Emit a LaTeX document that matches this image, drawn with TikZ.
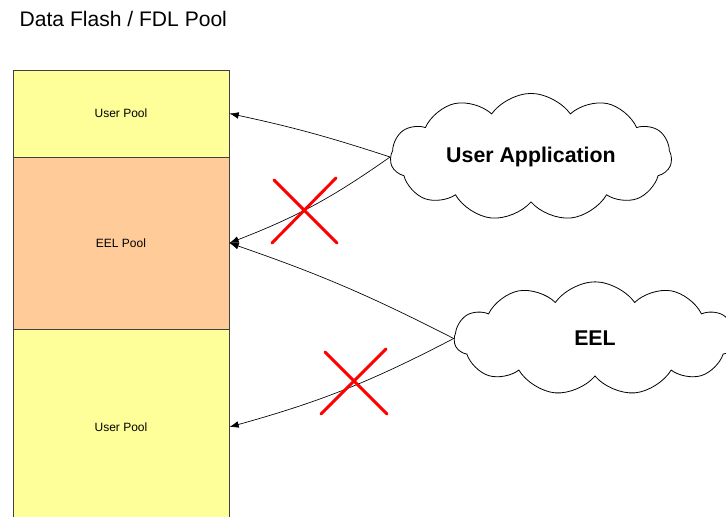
\documentclass[tikz,border=0pt]{standalone}
\usepackage{fontspec}
\setmainfont{Liberation Sans}
\usetikzlibrary{shapes.symbols, arrows.meta}

\definecolor{poolyellow}{HTML}{FFFF99}
\definecolor{poolpeach}{HTML}{FFCC99}

\tikzset{
    pool/.style={draw=black!75, line width=0.6pt, minimum width=162pt, inner sep=0pt,
        font=\fontsize{9}{11}\selectfont},
    bubble/.style={cloud, draw, fill=white, line width=0.6pt, cloud puffs=11, cloud puff arc=110,
        aspect=2.5, minimum width=211pt, minimum height=85pt, inner sep=0pt,
        font=\bfseries\fontsize{16}{19}\selectfont},
    link/.style={-{Latex[length=7pt,width=5pt]}, line width=0.5pt},
    nogo/.style={red, line width=2.2pt, line cap=round},
}

\begin{document}
\begin{tikzpicture}[x=0.75pt, y=-0.75pt]
    \clip (0,0) rectangle (726,517);
    \node[anchor=base west, font=\fontsize{15.8}{19}\selectfont] (title) at (15,27) {Data Flash / FDL Pool};

    % pools
    \node[pool, fill=poolyellow, minimum height=65.25pt] (upool) at (121,113.5) {User Pool};
    \node[pool, fill=poolpeach, minimum height=129pt] (eelpool) at (121,243) {EEL Pool};
    \node[pool, fill=poolyellow, minimum height=147pt] (lpool) at (121,427) {User Pool};

    % users of the pool
    \node[bubble] (app) at (531,157) {User Application};
    \node[bubble] (eel) at (595,338.5) {EEL};

    \draw[link] (app.west) to[bend right=3] (upool.east);
    \draw[link] (app.west) to[bend left=7] (eelpool.east);
    \draw[link] (eel.west) to[bend right=4] (eelpool.east);
    \draw[link] (eel.west) to[bend left=6] (lpool.east);

    % forbidden
    \draw[nogo] (274,180) -- (337,243) (336,178) -- (272,243);
    \draw[nogo] (325,352) -- (387,414) (386,349) -- (321,414);
\end{tikzpicture}
\end{document}
